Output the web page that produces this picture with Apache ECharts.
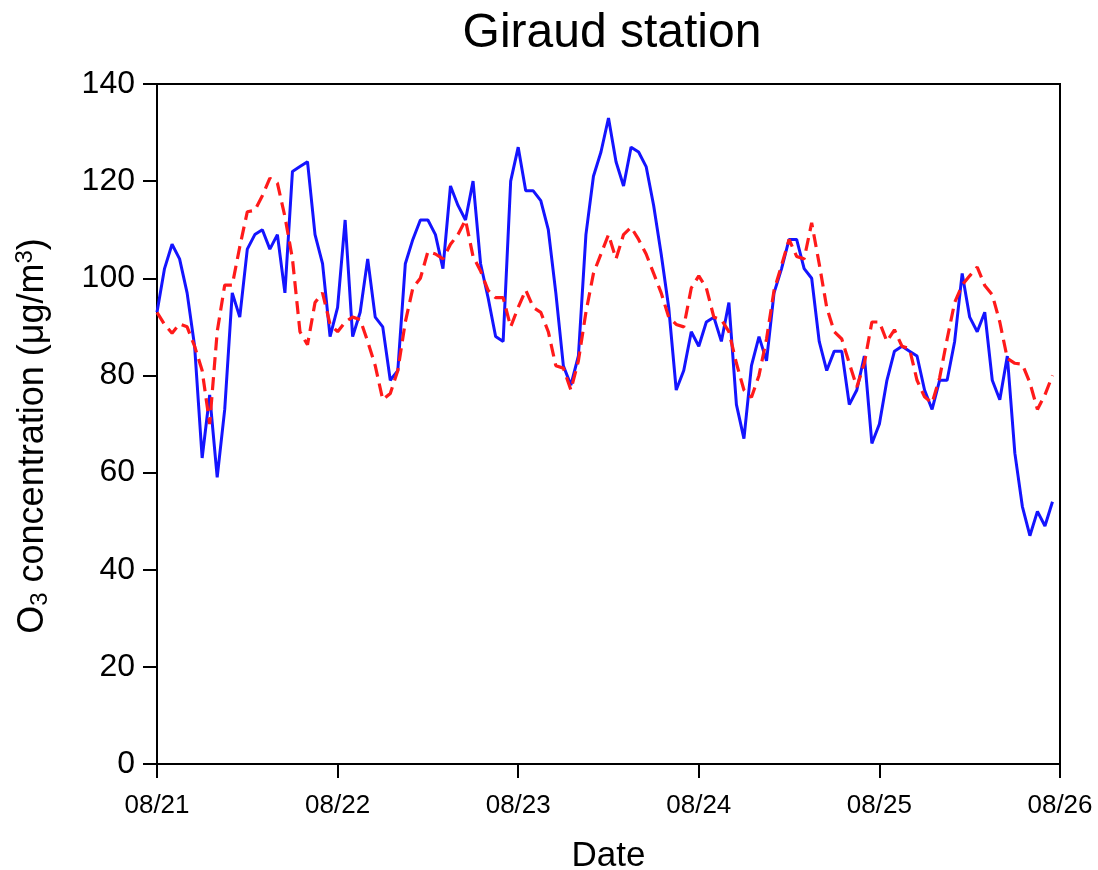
<!DOCTYPE html>
<html>
<head>
<meta charset="utf-8">
<script src="https://cdn.jsdelivr.net/npm/echarts@6/dist/echarts.min.js"></script>
<style>html,body{margin:0;padding:0;background:#fff;}#c{width:1098px;height:870px;}</style>
</head>
<body>
<div id="c"></div>
<script>
const dateLabels = ['08/21', '08/22', '08/23', '08/24', '08/25', '08/26'];
const observed = [93,102,107,104,97,86,63,76,59,73,97,92,106,109,110,106,109,97,122,123,124,109,103,88,
  94,112,88,93,104,92,90,79,81,103,108,112,112,109,102,119,115,112,120,103,96,88,87,120,
  127,118,118,116,110,97,82,78,84,109,121,126,133,124,119,127,126,123,115,105,94,77,81,89,
  86,91,92,87,95,74,67,82,88,83,97,102,108,108,102,100,87,81,85,85,74,77,84,66,
  70,79,85,86,85,84,77,73,79,79,87,101,92,89,93,79,75,84,64,53,47,52,49,54];
const modeled = [93,90.5,88.7,90.6,90,86,81,70,89,98.6,98.6,106.5,113.7,114,117,120.6,119.6,112.7,104,89,86.3,95,97,90.5,
  89,91,92,91.5,87,82,75,76.3,81,91,98,100,105.5,105,104,107,109,112,104.5,101.5,97.5,96,96,90,
  94,97.6,94,93,89,82,81.5,77,83,93,101,105,109,104,109,110.5,108,105,101,97,92,90.5,90,98,
  100.5,98,92,91.5,89,82.5,77,75.5,80,87.5,97.5,102.7,108,104.5,104,111.4,103,94,89,87.5,82.5,77.6,82.5,91,
  91,87,89.4,86,85.5,79,75.6,74.3,79.5,87.5,95,98.6,100.5,102.3,98.5,96.6,91,83.5,82.5,82.3,78.5,73,76,80];
const yTicks = [0, 20, 40, 60, 80, 100, 120, 140];

const chart = echarts.init(document.getElementById('c'));
const font = 'Liberation Sans, Arial, sans-serif';
chart.setOption({
  animation: false,
  backgroundColor: '#fff',
  title: {
    text: 'Giraud station', left: 607, top: 5, textAlign: 'center',
    textStyle: { fontFamily: font, fontSize: 48, fontWeight: 'normal', color: '#000' }
  },
  grid: { left: 157, right: 38, top: 84, bottom: 106, show: true, borderColor: '#000', borderWidth: 2,
    outerBoundsMode: 'none', containLabel: false },
  xAxis: {
    type: 'value', min: 0, max: 120, interval: 24,
    name: 'Date', nameLocation: 'middle', nameGap: 75,
    nameTextStyle: { fontFamily: font, fontSize: 35, color: '#000' },
    axisLine: { show: true, onZero: false, lineStyle: { color: '#000', width: 2 } },
    axisTick: { show: true, length: 14, lineStyle: { color: '#000', width: 2 } },
    axisLabel: { fontFamily: font, fontSize: 26, color: '#000', margin: 29,
      formatter: v => dateLabels[Math.round(v / 24)] },
    splitLine: { show: false }
  },
  yAxis: {
    type: 'value', min: 0, max: 140, interval: 20,
    name: '{a|O}{sub|3}{a| concentration (μg/m}{sup|3}{a|)}',
    nameLocation: 'middle', nameGap: 104, nameRotate: 90,
    nameTextStyle: { fontFamily: font, fontSize: 36, color: '#000', padding: [0, 24, 0, 0],
      rich: {
        a: { fontFamily: font, fontSize: 36, color: '#000' },
        sub: { fontFamily: font, fontSize: 24, color: '#000', padding: [14, 0, 0, 0] },
        sup: { fontFamily: font, fontSize: 24, color: '#000', padding: [0, 0, 16, 0] }
      } },
    axisLine: { show: true, lineStyle: { color: '#000', width: 2 } },
    axisTick: { show: true, length: 14, lineStyle: { color: '#000', width: 2 } },
    axisLabel: { fontFamily: font, fontSize: 32, color: '#000', margin: 22,
      formatter: v => yTicks.includes(v) ? String(v) : '' },
    splitLine: { show: false }
  },
  series: [
    { type: 'line', data: observed.map((v, i) => [i, v]), showSymbol: false,
      lineStyle: { color: '#1414ff', width: 3 } },
    { type: 'line', data: modeled.map((v, i) => [i, v]), showSymbol: false,
      lineStyle: { color: '#ff1a1a', width: 3.2, type: [13, 7] } }
  ]
});
</script>
</body>
</html>
